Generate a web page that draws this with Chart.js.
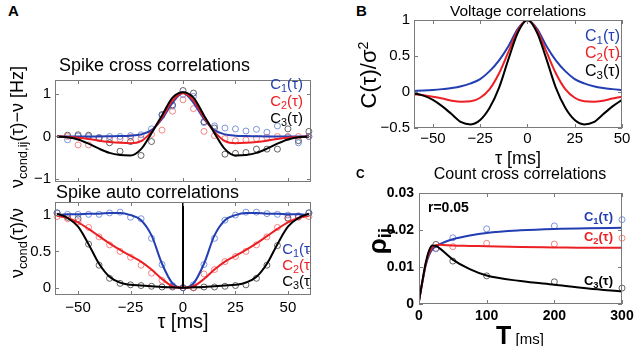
<!DOCTYPE html>
<html>
<head>
<meta charset="utf-8">
<script src="https://cdn.jsdelivr.net/npm/chart.js@4"></script>
<style>
  body { margin: 0; background: #fff; overflow: hidden; }
  #fig { position: relative; width: 634px; height: 346px; font-family: "Liberation Sans", Arial, sans-serif; color: #000; }
  canvas { position: absolute; }
  .t { position: absolute; line-height: 1; white-space: nowrap; }
  .t sub { font-size: 72%; vertical-align: -0.28em; line-height: 0; }
  .t sup { font-size: 65%; vertical-align: 0.55em; line-height: 0; }
  .clip { position: absolute; overflow: hidden; }
</style>
</head>
<body>
<div id="fig">
  <canvas id="crossChart"></canvas>
  <canvas id="autoChart"></canvas>
  <canvas id="voltChart"></canvas>
  <canvas id="countChart"></canvas>
</div>
<script>
// ---- datos ----
// panel A (tau en ms)
const tauCurve = [-60,-55,-50,-45,-40,-35,-30,-25,-20,-15,-10,-5,0,5,10,15,20,25,30,35,40,45,50,55,60];
const crossC1 = [0,0,0,0,0,0.005,0.01,0.02,0.05,0.15,0.42,0.8,1.03,0.8,0.42,0.15,0.05,0.02,0.01,0.005,0,0,0,0,0];
const crossC2 = [0,-0.01,-0.03,-0.06,-0.1,-0.13,-0.15,-0.16,-0.11,0.11,0.45,0.85,1.03,0.85,0.45,0.11,-0.11,-0.16,-0.15,-0.13,-0.1,-0.06,-0.03,-0.01,0];
const crossC3 = [0,-0.02,-0.07,-0.17,-0.29,-0.39,-0.44,-0.45,-0.3,0.08,0.5,0.92,1.05,0.92,0.5,0.08,-0.3,-0.45,-0.44,-0.39,-0.29,-0.17,-0.07,-0.02,0];
const tauCrossDots = [-55,-50,-45,-40,-35,-30,-25,-20,-15,-10,-5,0,5,10,15,20,25,30,35,40,45,50,55,60];
const crossDots1 = [-0.08,0.01,0,-0.02,0,0,0.02,0.04,0.18,0.5,0.72,1,0.95,0.33,0.25,0.2,0.18,0.13,0.17,0.1,0.25,-0.02,-0.15,0];
const crossDots2 = [0,-0.2,-0.2,-0.05,-0.07,-0.06,-0.02,-0.05,0.05,0.15,0.6,0.87,0.66,0.12,0.02,-0.05,-0.1,-0.08,-0.05,-0.02,0,0,0,0];
const crossDots3 = [0.03,0.04,0.03,-0.04,-0.15,-0.35,-0.12,-0.45,-0.12,0.52,0.75,1.09,1.03,0.35,0.2,-0.42,-0.4,-0.38,-0.3,-0.3,-0.3,0.18,-0.1,0.12];

const autoC1 = [1,1.01,1.01,1.02,1.02,1.03,1.03,1,0.93,0.72,0.33,0.06,0,0.06,0.33,0.72,0.93,1,1.03,1.03,1.02,1.02,1.01,1.01,1];
const autoC2 = [0.99,0.96,0.9,0.81,0.71,0.61,0.52,0.44,0.36,0.25,0.12,0.02,0,0.02,0.12,0.25,0.36,0.44,0.52,0.61,0.71,0.81,0.9,0.96,0.99];
const autoC3 = [1.02,0.96,0.84,0.6,0.33,0.15,0.07,0.04,0.03,0.02,0.01,0.005,0,0.005,0.01,0.02,0.03,0.04,0.07,0.15,0.33,0.6,0.84,0.96,1.02];
const autoDots1 = [1.03,1.01,1.01,1.01,1.01,1.03,1.04,0.97,0.95,0.68,0.32,0.03,0,0.04,0.32,0.68,0.93,1,1.04,1.04,1.02,1.01,1,0.99,1.03];
const autoDots2 = [0.98,0.95,0.91,0.83,0.7,0.59,0.5,0.42,0.31,0.2,0.1,0.02,0,0,0.19,0.25,0.36,0.43,0.5,0.59,0.7,0.83,0.95,0.97,0.98];
const autoDots3 = [1.03,0.97,0.95,0.6,0.31,0.13,0.06,0.04,0.03,0.02,0.01,0.01,0,0,0.01,0.01,0.02,0.03,0.04,0.13,0.31,0.58,0.96,0.98,1.03];

// panel B
const tauVolt = [-60,-55,-50,-45,-40,-35,-30,-25,-20,-15,-10,-5,0,5,10,15,20,25,30,35,40,45,50];
const voltC1 = [0.014,0.02,0.028,0.04,0.055,0.08,0.12,0.18,0.29,0.44,0.64,0.88,1,0.88,0.64,0.44,0.29,0.18,0.12,0.08,0.055,0.04,0.028];
const voltC2 = [-0.03,-0.045,-0.065,-0.09,-0.12,-0.135,-0.13,-0.08,0.04,0.26,0.56,0.86,1,0.86,0.56,0.26,0.04,-0.08,-0.13,-0.135,-0.12,-0.09,-0.065];
const voltC3 = [-0.02,-0.05,-0.11,-0.2,-0.31,-0.42,-0.45,-0.39,-0.22,0.06,0.46,0.83,1,0.83,0.46,0.06,-0.22,-0.39,-0.45,-0.42,-0.31,-0.2,-0.11];

// panel C (T en ms)
const winT = [0,5,10,15,20,25,30,40,50,75,100,150,200,250,300];
const countC1 = [0.0008,0.006,0.0105,0.0133,0.0148,0.0156,0.0161,0.0169,0.0175,0.0185,0.0192,0.0199,0.0203,0.0205,0.0206];
const countC2 = [0.0008,0.006,0.0108,0.0138,0.0153,0.0159,0.016,0.0159,0.0158,0.0157,0.0156,0.0154,0.0153,0.0152,0.0152];
const countC3 = [0.0008,0.0062,0.0112,0.0145,0.0158,0.0157,0.0151,0.0136,0.012,0.0094,0.0077,0.0062,0.0052,0.0042,0.0034];
const winDots = [25,50,100,200,300];
const countDots1 = [0.0149,0.0179,0.0203,0.0211,0.0228];
const countDots2 = [0.0151,0.0155,0.0164,0.0162,0.0178];
const countDots3 = [0.0161,0.0116,0.0076,0.006,0.0043];

// ticks
const tauTicks = [-50,-25,0,25,50];
const crossTicks = [-1,0,1];
const autoTicks = [0,0.5,1];
const voltTicks = [-0.5,0,0.5,1];
const winTicks = [0,100,200,300];
const countTicks = [0,0.01,0.02,0.03];

// ---- estilos ----
const BLUE = 'rgb(35,62,178)', RED = 'rgb(236,32,36)', BLACK = '#000';
const BLUE_DOT = 'rgba(60,95,205,0.65)', RED_DOT = 'rgba(238,70,70,0.65)', BLACK_DOT = 'rgba(0,0,0,0.6)';

const pts = (xs, ys) => xs.map((x, i) => ({x: x, y: ys[i]}));
const minus = v => (v < 0 ? '\u2212' + Math.abs(v) : String(v));

function curve(xs, ys, color) {
  return {data: pts(xs, ys), borderColor: color, borderWidth: 2, pointRadius: 0,
          cubicInterpolationMode: 'monotone', fill: false};
}
function dots(xs, ys, color) {
  return {data: pts(xs, ys), showLine: false, pointRadius: 3, pointBorderWidth: 1,
          pointBorderColor: color, pointBackgroundColor: 'rgba(0,0,0,0)', clip: false};
}

// caja estilo matlab con ticks hacia dentro
const boxPlugin = {
  id: 'matlabBox',
  afterDatasetsDraw(chart) {
    const ctx = chart.ctx, a = chart.chartArea, x = chart.scales.x, y = chart.scales.y;
    ctx.save();
    ctx.strokeStyle = '#7a7a7a';
    ctx.lineWidth = 1;
    ctx.strokeRect(Math.round(a.left) + 0.5, Math.round(a.top) + 0.5,
                   Math.round(a.right - a.left) - 1, Math.round(a.bottom - a.top) - 1);
    ctx.beginPath();
    const tl = 4;
    x.ticks.forEach(t => {
      const p = Math.round(x.getPixelForValue(t.value)) + 0.5;
      ctx.moveTo(p, a.bottom); ctx.lineTo(p, a.bottom - tl);
      ctx.moveTo(p, a.top); ctx.lineTo(p, a.top + tl);
    });
    y.ticks.forEach(t => {
      const p = Math.round(y.getPixelForValue(t.value)) + 0.5;
      ctx.moveTo(a.left, p); ctx.lineTo(a.left + tl, p);
      ctx.moveTo(a.right, p); ctx.lineTo(a.right - tl, p);
    });
    ctx.stroke();
    ctx.restore();
  }
};

// box = recuadro de los ejes en pixeles de la figura
function panel(id, box, ax, datasets) {
  const pt = 6, pr = box.pr;
  const cnv = document.getElementById(id);
  cnv.width = box.R - box.L + ax.yw + pr;
  cnv.height = box.B - box.T + pt + ax.xh;
  cnv.style.left = (box.L - ax.yw) + 'px';
  cnv.style.top = (box.T - pt) + 'px';
  const font = {family: '"Liberation Sans", Arial, sans-serif', size: ax.fs, weight: ax.bold ? 'bold' : 'normal'};
  return new Chart(cnv, {
    type: 'line',
    data: {datasets: datasets},
    options: {
      responsive: false, animation: false, devicePixelRatio: 1,
      layout: {padding: {top: pt, right: pr, left: 0, bottom: 0}},
      plugins: {legend: {display: false}, tooltip: {enabled: false}},
      scales: {
        x: {
          type: 'linear', min: ax.xMin, max: ax.xMax,
          grid: {display: false, drawTicks: false}, border: {display: false},
          afterBuildTicks: s => { s.ticks = ax.xTicks.map(v => ({value: v})); },
          ticks: {display: ax.xLabels, padding: ax.xPad, color: '#000', font: font, maxRotation: 0,
                  callback: v => minus(v)},
          afterFit: s => { s.height = ax.xh; s.paddingLeft = 0; s.paddingRight = 0; }
        },
        y: {
          type: 'linear', min: ax.yMin, max: ax.yMax,
          grid: {display: false, drawTicks: false}, border: {display: false},
          afterBuildTicks: s => { s.ticks = ax.yTicks.map(v => ({value: v})); },
          ticks: {padding: ax.yPad, color: '#000', font: font, callback: v => minus(v)},
          afterFit: s => { s.width = ax.yw; s.paddingTop = 0; s.paddingBottom = 0; }
        }
      }
    },
    plugins: [boxPlugin]
  });
}

// A arriba: correlaciones cruzadas
panel('crossChart', {L: 55, R: 311, T: 80, B: 183, pr: 8},
  {xMin: -61, xMax: 61, yMin: -1.08, yMax: 1.34, xTicks: tauTicks, yTicks: crossTicks,
   xLabels: false, yw: 40, xh: 4, fs: 15, xPad: 3, yPad: 4},
  [curve(tauCurve, crossC3, BLACK), curve(tauCurve, crossC2, RED), curve(tauCurve, crossC1, BLUE),
   dots(tauCrossDots, crossDots1, BLUE_DOT), dots(tauCrossDots, crossDots2, RED_DOT), dots(tauCrossDots, crossDots3, BLACK_DOT)]);

// A abajo: autocorrelaciones
panel('autoChart', {L: 55, R: 311, T: 202, B: 295, pr: 8},
  {xMin: -61, xMax: 61, yMin: -0.1, yMax: 1.18, xTicks: tauTicks, yTicks: autoTicks,
   xLabels: true, yw: 40, xh: 24, fs: 15, xPad: 4, yPad: 4},
  [{data: [{x: 0, y: 0}, {x: 0, y: 1.18}], borderColor: BLACK, borderWidth: 2, pointRadius: 0},
   curve(tauCurve, autoC3, BLACK), curve(tauCurve, autoC2, RED), curve(tauCurve, autoC1, BLUE),
   dots(tauCurve, autoDots1, BLUE_DOT), dots(tauCurve, autoDots2, RED_DOT), dots(tauCurve, autoDots3, BLACK_DOT)]);

// B: correlaciones de voltaje
panel('voltChart', {L: 414, R: 622, T: 20, B: 128, pr: 10},
  {xMin: -60, xMax: 50, yMin: -0.5, yMax: 1, xTicks: tauTicks, yTicks: voltTicks,
   xLabels: true, yw: 44, xh: 22, fs: 15, xPad: 2, yPad: 4},
  [curve(tauVolt, voltC3, BLACK), curve(tauVolt, voltC2, RED), curve(tauVolt, voltC1, BLUE)]);

// C: correlaciones de cuentas
panel('countChart', {L: 419, R: 622, T: 193, B: 304, pr: 12},
  {xMin: 0, xMax: 300, yMin: 0, yMax: 0.03, xTicks: winTicks, yTicks: countTicks,
   xLabels: true, yw: 48, xh: 22, fs: 14, bold: true, xPad: 4, yPad: 5},
  [curve(winT, countC3, BLACK), curve(winT, countC2, RED), curve(winT, countC1, BLUE),
   dots(winDots, countDots1, BLUE_DOT), dots(winDots, countDots2, RED_DOT), dots(winDots, countDots3, BLACK_DOT)]);

// ---- textos ----
const fig = document.getElementById('fig');
function txt(html, x, base, size, o) {
  o = o || {};
  const d = document.createElement('div');
  d.className = 't';
  d.innerHTML = html;
  d.style.fontSize = size + 'px';
  d.style.top = (base - 0.846 * size) + 'px';
  if (o.weight) d.style.fontWeight = o.weight;
  if (o.color) d.style.color = o.color;
  if (o.align === 'center') { d.style.left = x + 'px'; d.style.transform = 'translateX(-50%)'; }
  else if (o.align === 'right') { d.style.right = (634 - x) + 'px'; }
  else d.style.left = x + 'px';
  (o.parent || fig).appendChild(d);
  return d;
}
function vtxt(html, cx, cy, size, o) {
  o = o || {};
  const d = document.createElement('div');
  d.className = 't';
  d.innerHTML = html;
  d.style.fontSize = size + 'px';
  d.style.left = cx + 'px';
  d.style.top = cy + 'px';
  if (o.weight) d.style.fontWeight = o.weight;
  d.style.transform = 'translate(-50%,-50%) rotate(-90deg)';
  fig.appendChild(d);
}
const leg = (n) => 'C<sub>' + n + '</sub>(\u03c4)';

// panel A
txt('A', 8, 16, 15, {weight: 'bold'});
txt('Spike cross correlations', 59, 71, 18);
txt('Spike auto correlations', 56, 198, 18);
txt(leg(1), 303, 89, 15, {align: 'right', color: BLUE});
txt(leg(2), 303, 106, 15, {align: 'right', color: RED});
txt(leg(3), 303, 123, 15, {align: 'right', color: BLACK});
const clipA = document.createElement('div');
clipA.className = 'clip';
clipA.style.cssText = 'left:240px;top:0;width:71px;height:346px;';
fig.appendChild(clipA);
[[1, 254, BLUE], [2, 270, RED], [3, 286, BLACK]].forEach(l => {
  const d = txt(leg(l[0]), 0, l[1], 15, {color: l[2], parent: clipA});
  d.style.left = 'auto'; d.style.right = '-4px';
});
txt('\u03c4 [ms]', 183, 328, 20, {align: 'center'});
vtxt('\u03bd<sub>cond,ij</sub>(\u03c4)\u2212\u03bd [Hz]', 17, 127, 18);
vtxt('\u03bd<sub>cond</sub>(\u03c4)/\u03bd', 17, 243, 18);

// panel B
txt('B', 356, 16, 15, {weight: 'bold'});
txt('Voltage correlations', 518, 16, 15.5, {align: 'center'});
txt(leg(1), 620, 42, 16, {align: 'right', color: BLUE});
txt(leg(2), 620, 59, 16, {align: 'right', color: RED});
txt(leg(3), 620, 77, 16, {align: 'right', color: BLACK});
vtxt('C(\u03c4)/\u03c3<sup>2</sup>', 369, 75, 22);
txt('\u03c4 [ms]', 518, 164, 18, {align: 'center'});

// panel C
txt('C', 356, 178, 12, {weight: 'bold'});
txt('Count cross correlations', 520, 180, 16, {align: 'center'});
txt('r=0.05', 428, 212, 14, {weight: 'bold'});
txt(leg(1), 613, 221, 13, {align: 'right', color: BLUE, weight: 'bold'});
txt(leg(2), 613, 241, 13, {align: 'right', color: RED, weight: 'bold'});
txt(leg(3), 613, 285, 13, {align: 'right', color: BLACK, weight: 'bold'});
vtxt('\u03c1<sub>ij</sub>', 377, 241, 26, {weight: 'bold'});
txt('<b style="font-size:25px">T</b> [ms]', 520, 336, 15, {align: 'center'});
</script>
</body>
</html>
